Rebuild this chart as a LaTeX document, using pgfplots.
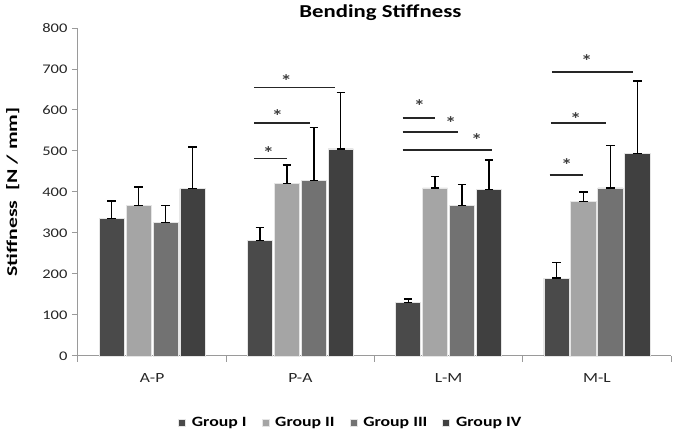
\documentclass[border=0pt]{standalone}
\usepackage{fontspec}
\setmainfont{Carlito}[FakeStretch=1.25]
\newfontfamily\labelfont{Carlito}[FakeStretch=1.45]
\usepackage{pgfplots}
\pgfplotsset{compat=1.18}

\definecolor{gI}{HTML}{4A4A4A}
\definecolor{gII}{HTML}{A5A5A5}
\definecolor{gIII}{HTML}{727272}
\definecolor{gIV}{HTML}{404040}
\definecolor{axisgray}{HTML}{9A9A9A}

\pgfplotsset{
  grpbar/.style={ybar, bar width=0.17, bar shift=0, draw=white!80!gray, line width=0.6pt,
    error bars/.cd, y dir=plus, y explicit, error mark=|,
    error bar style={black, line width=1.3pt},
    error mark options={black, line width=1.3pt, mark size=4.3pt},
    /pgfplots/.cd},
  cap/.style={only marks, mark=-, mark options={black, line width=1.3pt}, mark size=4.3pt, forget plot},
  sig/.style={black!85, line width=1.7pt, forget plot},
  legimg/.style={legend image code/.code={\fill[##1] (0pt,-3.5pt) rectangle (7pt,3.5pt);}},
}

\begin{document}
\begin{tikzpicture}
\useasboundingbox (-78pt,-79pt) rectangle (600pt,356pt);
\begin{axis}[
  scale only axis,
  width=593pt, height=328pt,
  xmin=-0.5, xmax=3.5,
  ymin=0, ymax=800,
  ytick={0,100,...,800},
  xtick={0,1,2,3},
  xticklabels={A-P,P-A,L-M,M-L},
  minor xtick={-0.5,0.5,1.5,2.5,3.5},
  axis x line*=bottom, axis y line*=left,
  axis line style={axisgray, line width=1pt},
  major x tick style={draw=none},
  minor x tick style={axisgray, line width=1pt},
  minor tick length=6pt,
  y tick style={axisgray, line width=1pt},
  major tick length=6pt,
  tick align=outside,
  yticklabel style={font=\fontsize{13.2}{15}\selectfont, text=black!85, xshift=-1pt},
  xticklabel style={font=\fontsize{14}{16}\selectfont, text=black!85, yshift=-8pt},
  /pgf/number format/assume math mode=true,
  ylabel={\textbf{Stiffness \ [N / mm]}},
  ylabel style={font=\labelfont\fontsize{15}{17}\selectfont, at={(axis description cs:-0.093,0.5)}},
  title={\textbf{Bending Stiffness}},
  title style={font=\fontsize{18.2}{21}\selectfont, at={(axis description cs:0.51,1.0)}, anchor=base, yshift=5pt},
  legend style={at={(0.46,-0.204)}, anchor=center, draw=none, legend columns=4,
    font=\bfseries\fontsize{14.2}{16}\selectfont, column sep=13pt,
    /tikz/every odd column/.append style={column sep=4pt}},
  legimg,
  clip=false,
]
% Group I
\addplot[fill=gI, grpbar] coordinates {
  (-0.273,335) +- (0,43)
  (0.727,282) +- (0,32)
  (1.727,131) +- (0,8)
  (2.727,190) +- (0,38)
};
\addlegendentry{Group I}
% Group II
\addplot[fill=gII, grpbar] coordinates {
  (-0.091,367) +- (0,45)
  (0.909,421) +- (0,45)
  (1.909,410) +- (0,27)
  (2.909,377) +- (0,23)
};
\addlegendentry{Group II}
% Group III
\addplot[fill=gIII, grpbar] coordinates {
  (0.091,326) +- (0,41)
  (1.091,428) +- (0,129)
  (2.091,367) +- (0,52)
  (3.091,410) +- (0,103)
};
\addlegendentry{Group III}
% Group IV
\addplot[fill=gIV, grpbar] coordinates {
  (0.273,408) +- (0,102)
  (1.273,505) +- (0,137)
  (2.273,406) +- (0,72)
  (3.273,494) +- (0,177)
};
\addlegendentry{Group IV}

% caps at the bar tops
\addplot[cap] coordinates {
  (-0.273,335)(0.727,282)(1.727,131)(2.727,190)
  (-0.091,367)(0.909,421)(1.909,410)(2.909,377)
  (0.091,326)(1.091,428)(2.091,367)(3.091,410)
  (0.273,408)(1.273,505)(2.273,406)(3.273,494)
};

% significance bars
\addplot[sig] coordinates {(0.689,482)(0.912,482)};
\addplot[sig] coordinates {(0.689,568)(1.068,568)};
\addplot[sig] coordinates {(0.689,655)(1.236,655)};
\addplot[sig] coordinates {(1.689,580)(1.905,580)};
\addplot[sig] coordinates {(1.689,546)(2.061,546)};
\addplot[sig] coordinates {(1.689,503)(2.291,503)};
\addplot[sig] coordinates {(2.682,441)(2.905,441)};
\addplot[sig] coordinates {(2.689,568)(3.061,568)};
\addplot[sig] coordinates {(2.696,693)(3.243,693)};

\begin{scope}[every node/.style={font=\bfseries\fontsize{18}{20}\selectfont, text=black!75, yshift=-4pt}]
\node at (axis cs:0.784,505) {*};
\node at (axis cs:0.845,596) {*};
\node at (axis cs:0.905,681) {*};
\node at (axis cs:1.804,620) {*};
\node at (axis cs:2.014,578) {*};
\node at (axis cs:2.189,537) {*};
\node at (axis cs:2.797,476) {*};
\node at (axis cs:2.858,588) {*};
\node at (axis cs:2.932,730) {*};
\end{scope}
\end{axis}
\end{tikzpicture}
\end{document}
